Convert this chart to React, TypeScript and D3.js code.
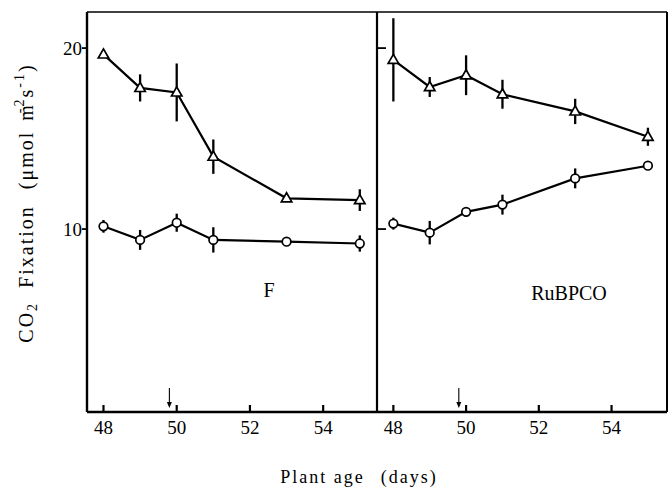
import React from "react";
import * as d3 from "d3";

const days = [48, 49, 50, 51, 53, 55];
const fTri = [19.65, 17.8, 17.55, 14.0, 11.7, 11.6];
const fTriErr = [0.15, 0.75, 1.6, 0.95, 0, 0.6];
const fCirc = [10.15, 9.4, 10.35, 9.4, 9.3, 9.2];
const fCircErr = [0.35, 0.55, 0.5, 0.7, 0, 0.45];
const rTri = [19.35, 17.85, 18.5, 17.45, 16.5, 15.1];
const rTriErr = [2.3, 0.55, 1.1, 0.8, 0.7, 0.5];
const rCirc = [10.3, 9.8, 10.95, 11.35, 12.8, 13.5];
const rCircErr = [0.33, 0.65, 0.25, 0.55, 0.55, 0];
const xTicks = [48, 50, 52, 54];
const yTicks = [10, 20];
const arrowDay = 49.8;

const FONT = "'Liberation Serif', 'DejaVu Serif', serif";

type PanelProps = {
  x0: number;
  x1: number;
  tri: number[];
  triErr: number[];
  circ: number[];
  circErr: number[];
  label: string;
  labelX: number;
  labelY: number;
  left: boolean;
};

const TOP = 12;
const BOTTOM = 412;
const y = d3.scaleLinear().domain([0, 22.05]).range([410, 11]);

function Panel({ x0, x1, tri, triErr, circ, circErr, label, labelX, labelY, left }: PanelProps) {
  const x = d3.scaleLinear().domain([47.55, 55.47]).range([x0, x1]);
  const line = d3
    .line<number>()
    .x((_, i) => x(days[i]))
    .y((v) => y(v));
  const triPath = (cx: number, cy: number) => {
    const s = 5.5;
    return `M${cx},${cy - s}L${cx + s * 0.95},${cy + s * 0.65}L${cx - s * 0.95},${cy + s * 0.65}Z`;
  };
  return (
    <g>
      {xTicks.map((t) => (
        <g key={t}>
          <line x1={x(t)} x2={x(t)} y1={BOTTOM} y2={BOTTOM - 7} stroke="#000" strokeWidth={2.2} />
          <text x={x(t)} y={BOTTOM + 22} textAnchor="middle" fontSize={19} fontFamily={FONT}>
            {t}
          </text>
        </g>
      ))}
      {yTicks.map((t) =>
        left ? (
          <line key={t} x1={x0} x2={x0 - 5} y1={y(t)} y2={y(t)} stroke="#000" strokeWidth={1.8} />
        ) : (
          <line key={t} x1={x0} x2={x0 + 9} y1={y(t)} y2={y(t)} stroke="#000" strokeWidth={1.8} />
        )
      )}
      {/* arrow */}
      <line x1={x(arrowDay)} x2={x(arrowDay)} y1={BOTTOM - 24} y2={BOTTOM - 6} stroke="#000" strokeWidth={1.1} />
      <path
        d={`M${x(arrowDay) - 2.5},${BOTTOM - 10}L${x(arrowDay)},${BOTTOM - 4}L${x(arrowDay) + 2.5},${BOTTOM - 10}Z`}
        fill="#000"
      />
      {/* lines */}
      <path d={line(tri) || ""} fill="none" stroke="#000" strokeWidth={2.2} />
      <path d={line(circ) || ""} fill="none" stroke="#000" strokeWidth={2.2} />
      {/* error bars */}
      {tri.map((v, i) =>
        triErr[i] > 0 ? (
          <line key={"te" + i} x1={x(days[i])} x2={x(days[i])} y1={y(v - triErr[i])} y2={y(v + triErr[i])} stroke="#000" strokeWidth={2.3} />
        ) : null
      )}
      {circ.map((v, i) =>
        circErr[i] > 0 ? (
          <line key={"ce" + i} x1={x(days[i])} x2={x(days[i])} y1={y(v - circErr[i])} y2={y(v + circErr[i])} stroke="#000" strokeWidth={2.3} />
        ) : null
      )}
      {/* markers */}
      {tri.map((v, i) => (
        <path key={"t" + i} d={triPath(x(days[i]), y(v))} fill="#fff" stroke="#000" strokeWidth={1.7} />
      ))}
      {circ.map((v, i) => (
        <circle key={"c" + i} cx={x(days[i])} cy={y(v)} r={4.3} fill="#fff" stroke="#000" strokeWidth={1.7} />
      ))}
      <text x={labelX} y={labelY} textAnchor="middle" fontSize={20} fontFamily={FONT}>
        {label}
      </text>
    </g>
  );
}

export default function App() {
  const L = 87;
  const M = 377;
  const R = 667;
  return (
    <svg
      width={668}
      height={490}
      style={{ position: "absolute", left: 0, top: 0, background: "#fff" }}
    >
      <rect x={0} y={0} width={668} height={490} fill="#fff" />
      {/* frame */}
      <line x1={L} x2={R} y1={TOP} y2={TOP} stroke="#000" strokeWidth={1.6} />
      <line x1={L} x2={R} y1={BOTTOM} y2={BOTTOM} stroke="#000" strokeWidth={2.4} />
      <line x1={L} x2={L} y1={TOP} y2={BOTTOM} stroke="#000" strokeWidth={2.4} />
      <line x1={M} x2={M} y1={TOP} y2={BOTTOM} stroke="#000" strokeWidth={2.2} />
      <line x1={R} x2={R} y1={TOP} y2={BOTTOM} stroke="#000" strokeWidth={2} />
      {yTicks.map((t) => (
        <text key={t} x={L - 5} y={y(t) + 7} textAnchor="end" fontSize={19} fontFamily={FONT}>
          {t}
        </text>
      ))}
      <Panel x0={L} x1={M} tri={fTri} triErr={fTriErr} circ={fCirc} circErr={fCircErr} label="F" labelX={269} labelY={297} left={true} />
      <Panel x0={M} x1={R - 2} tri={rTri} triErr={rTriErr} circ={rCirc} circErr={rCircErr} label="RuBPCO" labelX={569} labelY={300} left={false} />
      <text
        transform="translate(33,203) rotate(-90)"
        textAnchor="middle"
        fontSize={20}
        fontFamily={FONT}
        letterSpacing={2}
      >
        <tspan>CO</tspan>
        <tspan fontSize={14} dy={4}>2</tspan>
        <tspan dy={-4} dx={14}>Fixation</tspan>
        <tspan dx={16}>(μmol</tspan>
        <tspan dx={10}>m</tspan>
        <tspan fontSize={14} dx={-10} dy={-9}>-2</tspan>
        <tspan dy={9}>s</tspan>
        <tspan fontSize={14} dy={-9}>-1</tspan>
        <tspan dy={9}>)</tspan>
      </text>
      <text x={359} y={483} textAnchor="middle" fontSize={18} fontFamily={FONT} letterSpacing={2}>
        <tspan>Plant age</tspan>
        <tspan dx={16}>(days)</tspan>
      </text>
    </svg>
  );
}
